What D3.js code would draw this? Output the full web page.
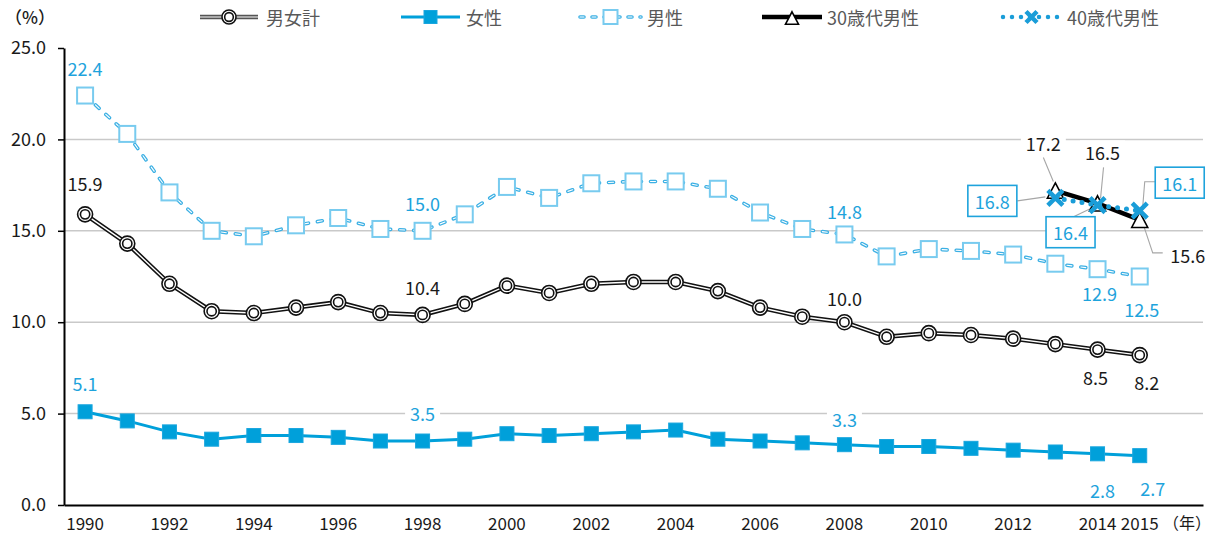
<!DOCTYPE html>
<html>
<head>
<meta charset="utf-8">
<script src="https://cdn.jsdelivr.net/npm/d3@7"></script>
<style>
  body { margin: 0; background: #fff; }
  svg { display: block; }
  text { font-family: "Noto Sans CJK JP", "Noto Sans", sans-serif; }
</style>
</head>
<body>
<svg id="chart" width="1215" height="540"></svg>
<script>
// ---- data ----
const years = d3.range(1990, 2016);
const total  = [15.9,14.3,12.1,10.6,10.5,10.8,11.1,10.5,10.4,11.0,12.0,11.6,12.1,12.2,12.2,11.7,10.8,10.3,10.0,9.2,9.4,9.3,9.1,8.8,8.5,8.2];
const female = [5.1,4.6,4.0,3.6,3.8,3.8,3.7,3.5,3.5,3.6,3.9,3.8,3.9,4.0,4.1,3.6,3.5,3.4,3.3,3.2,3.2,3.1,3.0,2.9,2.8,2.7];
const male   = [22.4,20.3,17.1,15.0,14.7,15.3,15.7,15.1,15.0,15.9,17.4,16.8,17.6,17.7,17.7,17.3,16.0,15.1,14.8,13.6,14.0,13.9,13.7,13.2,12.9,12.5];
const recentYears = [2013, 2014, 2015];
const male30s = [17.2, 16.5, 15.6];
const male40s = [16.8, 16.4, 16.1];
const yTicks = [0, 5, 10, 15, 20, 25];
const xTickLabels = ["1990","1992","1994","1996","1998","2000","2002","2004","2006","2008","2010","2012","2014","2015"];
const seriesNames = ["男女計", "女性", "男性", "30歳代男性", "40歳代男性"];

// ---- layout ----
const svg = d3.select("#chart");
const plot = { left: 64, right: 1203, top: 48, bottom: 505 };
const C = {
  female: "#00a0da",
  maleLine: "#3cb0e4",
  maleMarker: "#78cbef",
  label: "#1ea3dc",
  x40: "#1a9dd8",
  grid: "#c9c9c9",
  text: "#1a1a1a",
  legend: "#595959",
  leader: "#a6a6a6"
};

// one slot per year plus a trailing slot for the unit label
const x = d3.scaleBand().domain(years.map(String).concat(["unit"]))
  .range([plot.left, plot.right]).paddingInner(0).paddingOuter(0);
const xc = yr => x(String(yr)) + x.bandwidth() / 2;
const y = d3.scaleLinear().domain([0, 25]).range([plot.bottom, plot.top]);

// gridlines
svg.append("g").selectAll("line").data(yTicks.filter(t => t > 0 && t < 25)).join("line")
  .attr("x1", plot.left).attr("x2", plot.right)
  .attr("y1", d => y(d)).attr("y2", d => y(d))
  .attr("stroke", C.grid).attr("stroke-width", 1.5);

// ---- series ----
const pts = vals => vals.map((v, i) => [xc(years[i]), y(v)]);
const line = d3.line();

const gTotal = svg.append("g");
const gMale = svg.append("g");
const gFemale = svg.append("g");
const g30 = svg.append("g");
const g40 = svg.append("g");

function drawTotal(g, p) {
  g.append("path").attr("d", line(p)).attr("fill", "none").attr("stroke", "#111").attr("stroke-width", 4.5);
  g.append("path").attr("d", line(p)).attr("fill", "none").attr("stroke", "#fff").attr("stroke-width", 1.4);
}
function totalMarker(g, cx, cy, r) {
  g.append("circle").attr("cx", cx).attr("cy", cy).attr("r", r).attr("fill", "#fff").attr("stroke", "#111").attr("stroke-width", 1.6);
  g.append("circle").attr("cx", cx).attr("cy", cy).attr("r", r * 0.62).attr("fill", "#fff").attr("stroke", "#111").attr("stroke-width", 1.6);
}
// dashed double line: blue capsules with a white core
function drawMale(g, p, dash) {
  g.append("path").attr("d", line(p)).attr("fill", "none").attr("stroke", C.maleLine)
    .attr("stroke-width", 3.6).attr("stroke-linecap", "round").attr("stroke-dasharray", dash);
  g.append("path").attr("d", line(p)).attr("fill", "none").attr("stroke", "#fff")
    .attr("stroke-width", 1.1).attr("stroke-linecap", "round").attr("stroke-dasharray", dash);
}
function maleMarker(g, cx, cy, s) {
  g.append("rect").attr("x", cx - s / 2).attr("y", cy - s / 2).attr("width", s).attr("height", s)
    .attr("fill", "#fff").attr("stroke", C.maleMarker).attr("stroke-width", 2);
}
function femaleMarker(g, cx, cy, s) {
  g.append("rect").attr("x", cx - s / 2).attr("y", cy - s / 2).attr("width", s).attr("height", s)
    .attr("fill", C.female).attr("stroke", "#1aa6de").attr("stroke-width", 1);
}
function triMarker(g, cx, cy, w) {
  const h = w * 0.95;
  g.append("path").attr("d", `M${cx},${cy - h / 2}L${cx + w / 2},${cy + h / 2}L${cx - w / 2},${cy + h / 2}Z`)
    .attr("fill", "#fff").attr("stroke", "#000").attr("stroke-width", 1.6).attr("stroke-linejoin", "miter");
}
function crossMarker(g, cx, cy, s) {
  g.append("path").attr("d", `M${cx - s},${cy - s}L${cx + s},${cy + s}M${cx - s},${cy + s}L${cx + s},${cy - s}`)
    .attr("stroke", C.x40).attr("stroke-width", 4.5).attr("fill", "none");
}

// 男女計
const pTotal = pts(total);
drawTotal(gTotal, pTotal);
pTotal.forEach(([cx, cy]) => totalMarker(gTotal, cx, cy, 7.5));

// 男性
const pMale = pts(male);
drawMale(gMale, pMale, "5 9");
pMale.forEach(([cx, cy]) => maleMarker(gMale, cx, cy, 16));

// 女性
const pFemale = pts(female);
gFemale.append("path").attr("d", line(pFemale)).attr("fill", "none").attr("stroke", C.female).attr("stroke-width", 3);
pFemale.forEach(([cx, cy]) => femaleMarker(gFemale, cx, cy, 14));

// 30歳代男性
const p30 = male30s.map((v, i) => [xc(recentYears[i]), y(v)]);
g30.append("path").attr("d", line(p30)).attr("fill", "none").attr("stroke", "#000").attr("stroke-width", 4.5);
p30.forEach(([cx, cy]) => triMarker(g30, cx, cy, 16));

// 40歳代男性
const p40 = male40s.map((v, i) => [xc(recentYears[i]), y(v)]);
g40.append("path").attr("d", line(p40)).attr("fill", "none").attr("stroke", C.x40)
  .attr("stroke-width", 5).attr("stroke-linecap", "round").attr("stroke-dasharray", "0 9");
p40.forEach(([cx, cy]) => crossMarker(g40, cx, cy, 7.5));

// ---- value labels ----
const fmt = d3.format(".1f");
const seriesValues = { total, female, male };
const labelColor = { total: C.text, female: C.label, male: C.label };
// where each printed value sits, relative to its point
const labelPlacement = [
  { s: "male", yr: 1990, dx: 0, dy: -28 }, { s: "total", yr: 1990, dx: 0, dy: -31 }, { s: "female", yr: 1990, dx: 0, dy: -29 },
  { s: "male", yr: 1998, dx: 0, dy: -28 }, { s: "total", yr: 1998, dx: 0, dy: -28 }, { s: "female", yr: 1998, dx: 0, dy: -28 },
  { s: "male", yr: 2008, dx: 0, dy: -23 }, { s: "total", yr: 2008, dx: 0, dy: -24 }, { s: "female", yr: 2008, dx: 0, dy: -26 },
  { s: "male", yr: 2014, dx: 2, dy: 24 }, { s: "total", yr: 2014, dx: -2, dy: 27 }, { s: "female", yr: 2014, dx: 5, dy: 36 },
  { s: "male", yr: 2015, dx: 2, dy: 32 }, { s: "total", yr: 2015, dx: 7, dy: 27 }, { s: "female", yr: 2015, dx: 13, dy: 32 }
];
const gLabels = svg.append("g");

function valueLabel(g, cx, cy, txt, color, boxed) {
  const grp = g.append("g");
  const bg = grp.append("rect");
  const t = grp.append("text").attr("x", cx).attr("y", cy).attr("text-anchor", "middle")
    .attr("dominant-baseline", "central").attr("font-size", 18).attr("fill", color).text(txt);
  const b = t.node().getBBox();
  if (boxed) {
    bg.attr("x", cx - 24.5).attr("y", cy - 15.5).attr("width", 49).attr("height", 31)
      .attr("fill", "#fff").attr("stroke", C.label).attr("stroke-width", 1.6);
  } else {
    bg.attr("x", b.x - 5).attr("y", b.y + 1).attr("width", b.width + 10).attr("height", b.height - 2).attr("fill", "#fff");
  }
}

labelPlacement.forEach(l => {
  const i = years.indexOf(l.yr);
  const v = seriesValues[l.s][i];
  valueLabel(gLabels, xc(l.yr) + l.dx, y(v) + l.dy, fmt(v), labelColor[l.s], false);
});

// callouts for the age-group series, each with a leader line
const callouts = [
  { vals: male30s, i: 0, dx: -12, dy: -48, leader: [[-12, -33], [-2, -9]], boxed: false, color: C.text },
  { vals: male30s, i: 1, dx: 5, dy: -51, leader: [[6, -36], [3, -5]], boxed: false, color: C.text },
  { vals: male30s, i: 2, dx: 48, dy: 35, leader: [[2, 0], [13, 33], [23, 33]], boxed: false, color: C.text },
  { vals: male40s, i: 0, dx: -63, dy: 3, leader: [[-38, 3], [-10, -1]], boxed: true, color: C.label },
  { vals: male40s, i: 1, dx: -27, dy: 27, leader: [[-25, 12], [0, 0]], boxed: true, color: C.label },
  { vals: male40s, i: 2, dx: 40, dy: -28, leader: [[16, -29], [5, -29], [3, -4]], boxed: true, color: C.label }
];
const gCall = svg.append("g");
callouts.forEach(c => {
  const px = xc(recentYears[c.i]), py = y(c.vals[c.i]);
  gCall.append("path").attr("d", d3.line()(c.leader.map(([a, b]) => [px + a, py + b])))
    .attr("fill", "none").attr("stroke", C.leader).attr("stroke-width", 1.1);
});
// keep the age-group marks above their leader lines
g30.raise(); g40.raise();
const gCallLabels = svg.append("g");
callouts.forEach(c => {
  const px = xc(recentYears[c.i]), py = y(c.vals[c.i]);
  valueLabel(gCallLabels, px + c.dx, py + c.dy, fmt(c.vals[c.i]), c.color, c.boxed);
});

// ---- axes (drawn last so label backgrounds never hide them) ----
const yAxis = svg.append("g").attr("transform", `translate(${plot.left},0)`)
  .call(d3.axisLeft(y).tickValues(yTicks).tickFormat(d3.format(".1f"))
    .tickSizeInner(6).tickSizeOuter(0).tickPadding(12));
yAxis.select(".domain").attr("stroke", "#000").attr("stroke-width", 2);
yAxis.selectAll(".tick line").attr("stroke", "#000").attr("stroke-width", 1.5);
yAxis.selectAll(".tick text").attr("font-size", 18).attr("fill", C.text)
  .style("font-family", "\"Noto Sans CJK JP\", sans-serif");

const xAxis = svg.append("g").attr("transform", `translate(0,${plot.bottom})`)
  .call(d3.axisBottom(x).tickValues(xTickLabels.concat(["unit"]))
    .tickFormat(d => d === "unit" ? "（年）" : d).tickSize(0).tickPadding(13));
xAxis.select(".domain").attr("stroke", "#000").attr("stroke-width", 2.2);
xAxis.selectAll(".tick text").attr("font-size", 17).attr("fill", C.text)
  .style("font-family", "\"Noto Sans CJK JP\", sans-serif");
xAxis.selectAll(".tick").filter(d => d === "unit").select("text").attr("dx", 5).attr("font-size", 16);

svg.append("text").attr("x", 30).attr("y", 19).attr("text-anchor", "middle")
  .attr("dominant-baseline", "middle").attr("font-size", 17).attr("font-weight", 500)
  .attr("fill", C.text).text("（%）");

// ---- legend ----
const legend = svg.append("g");
const ly = 17;
const legendItems = [
  { name: seriesNames[0], x0: 200, x1: 258, text: 266 },
  { name: seriesNames[1], x0: 401, x1: 460, text: 466 },
  { name: seriesNames[2], x0: 580, x1: 641, text: 647 },
  { name: seriesNames[3], x0: 762, x1: 822, text: 827 },
  { name: seriesNames[4], x0: 1003, x1: 1060, text: 1067 }
];
legendItems.forEach((it, k) => {
  const g = legend.append("g");
  const mid = (it.x0 + it.x1) / 2;
  const seg = [[it.x0, ly], [it.x1, ly]];
  if (k === 0) {
    g.append("path").attr("d", line(seg)).attr("stroke", "#555").attr("stroke-width", 4.5);
    g.append("path").attr("d", line(seg)).attr("stroke", "#fff").attr("stroke-width", 1.2);
    totalMarker(g, mid, ly, 7);
  } else if (k === 1) {
    g.append("path").attr("d", line(seg)).attr("stroke", C.female).attr("stroke-width", 3);
    femaleMarker(g, mid, ly, 13);
  } else if (k === 2) {
    drawMale(g, seg, "4 8");
    maleMarker(g, mid, ly, 14);
  } else if (k === 3) {
    g.append("path").attr("d", line(seg)).attr("stroke", "#000").attr("stroke-width", 4.5);
    triMarker(g, mid, ly + 1, 13);
  } else {
    g.append("path").attr("d", line(seg)).attr("stroke", C.x40).attr("stroke-width", 4.5)
      .attr("stroke-linecap", "round").attr("stroke-dasharray", "0 9");
    crossMarker(g, mid, ly, 5.5);
  }
  g.append("text").attr("x", it.text).attr("y", ly).attr("dominant-baseline", "central")
    .attr("font-size", 18).attr("fill", C.legend).text(it.name);
});
</script>
</body>
</html>
